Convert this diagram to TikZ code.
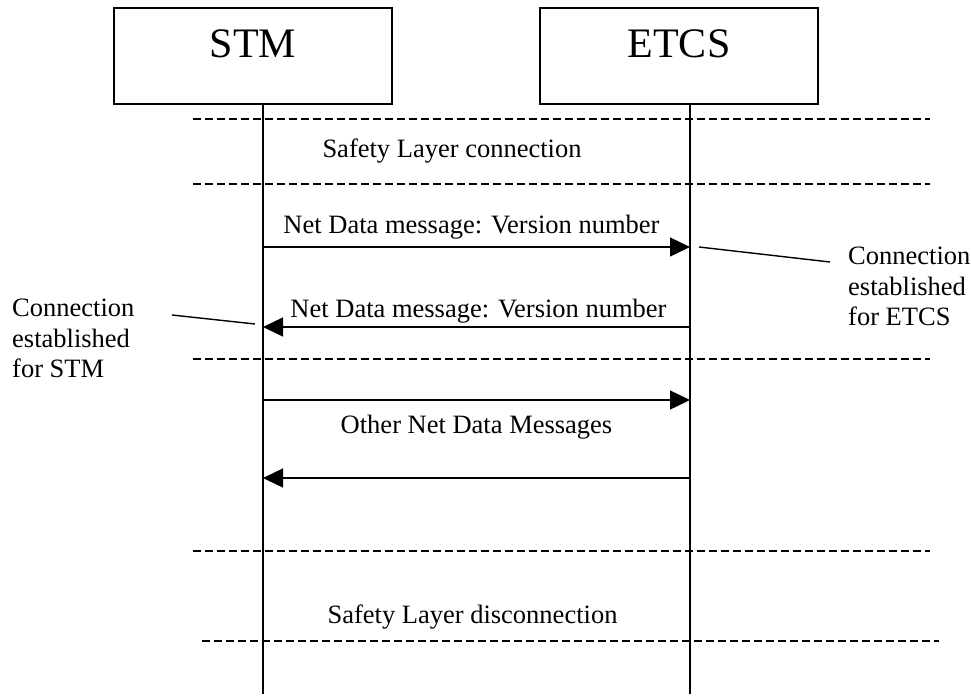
\documentclass[tikz,border=0pt]{standalone}
\usepackage{fontspec}
\setmainfont{Liberation Serif}
\usetikzlibrary{arrows.meta}
\begin{document}
\begin{tikzpicture}[x=1pt,y=-1pt,
  actor/.style={draw,line width=2.2pt,inner sep=0pt,minimum width=278pt,
    text height=49pt,text depth=47pt,font=\fontsize{42}{48}\selectfont},
  life/.style={line width=1.8pt},
  sep/.style={line width=1.4pt,dash pattern=on 8pt off 4pt},
  msg/.style={line width=1.4pt,-{Triangle[length=20pt,width=19pt]}},
  txt/.style={font=\fontsize{26.5}{30.5}\selectfont,inner sep=0pt,anchor=base},
  note/.style={font=\fontsize{26.5}{30.5}\selectfont,inner sep=0pt,align=left,anchor=north west},
  pointer/.style={line width=1.4pt}]
\useasboundingbox (0,0) rectangle (971,697);
\fill[white] (0,0) rectangle (971,697);
% actors
\node[actor] (stm) at (253,56) {STM};
\node[actor] (etcs) at (679,56) {ETCS};
% lifelines
\coordinate (sl) at (263,104);
\coordinate (el) at (690,104);
\coordinate (slend) at (263,694);
\coordinate (elend) at (690,694);
\draw[life] (sl) -- (slend);
\draw[life] (el) -- (elend);
% separators
\coordinate (d1a) at (193,119); \coordinate (d1b) at (930,119);
\coordinate (d2a) at (193,184); \coordinate (d2b) at (930,184);
\coordinate (d3a) at (193,359); \coordinate (d3b) at (930,359);
\coordinate (d4a) at (193,551); \coordinate (d4b) at (930,551);
\coordinate (d5a) at (202,641); \coordinate (d5b) at (939,641);
\draw[sep] (d1a) -- (d1b);
\draw[sep] (d2a) -- (d2b);
\draw[sep] (d3a) -- (d3b);
\draw[sep] (d4a) -- (d4b);
\draw[sep] (d5a) -- (d5b);
% texts
\node[txt] (slc) at (452,157) {Safety Layer connection};
\node[txt] (m1) at (471.5,233) {Net Data message: Version number};
\node[txt] (m2) at (478.5,317) {Net Data message: Version number};
\node[txt] (other) at (476.5,433) {Other Net Data Messages};
\node[txt] (sld) at (472.5,623) {Safety Layer disconnection};
% messages
\draw[msg] (sl |- 0,247) -- (el |- 0,247);
\draw[msg] (el |- 0,327) -- (sl |- 0,327);
\draw[msg] (sl |- 0,400) -- (el |- 0,400);
\draw[msg] (el |- 0,478) -- (sl |- 0,478);
% notes
\node[note] (nstm) at (12,299) {Connection\\established\\for STM};
\node[note] (netcs) at (848,247) {Connection\\established\\for ETCS};
\coordinate (p1a) at (172,315); \coordinate (p1b) at (255,324);
\coordinate (p2a) at (699,247); \coordinate (p2b) at (830,262);
\draw[pointer] (p1a) -- (p1b);
\draw[pointer] (p2a) -- (p2b);
\end{tikzpicture}
\end{document}
